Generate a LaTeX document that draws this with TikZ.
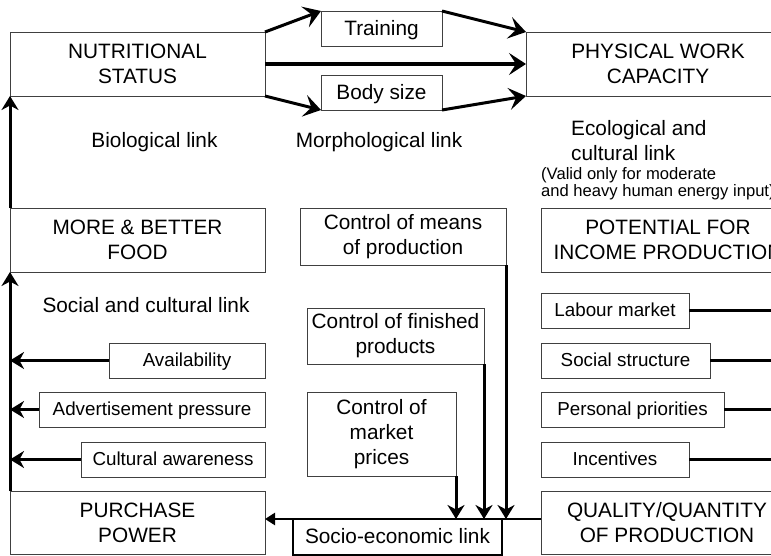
\documentclass[tikz,border=0pt]{standalone}
\usepackage{fontspec}
\setmainfont{Liberation Sans}
\usetikzlibrary{arrows.meta}
\begin{document}
\begin{tikzpicture}[x=1pt,y=-1pt,
  box/.style={draw=black!75, line width=0.9pt, align=center, inner sep=0pt, outer sep=0pt, font=\fontsize{20.8}{25}\selectfont},
  onebox/.style={box, text height=18pt, text depth=4.3pt},
  fbox/.style={box, font=\fontsize{18.8}{22}\selectfont, minimum height=35pt, text height=16.5pt, text depth=3.9pt},
  lbl/.style={inner sep=0pt, font=\fontsize{20.8}{25}\selectfont},
  arr/.style={line width=3pt, -{Stealth[length=17pt, width=22pt, inset=7pt]}},
  darr/.style={line width=3pt, -{Stealth[length=14pt, width=17pt, inset=4.5pt]}},
  sarr/.style={line width=2.6pt, -{Triangle[length=10pt, width=12pt]}},
  bar/.style={line width=3pt},
]
\useasboundingbox (0,0) rectangle (771,556);
\clip (0,0) rectangle (771,556);

% main boxes
\node[box, minimum width=255pt, minimum height=64pt] (ns) at (137.5,64) {NUTRITIONAL\\STATUS};
\node[box, minimum width=264pt, minimum height=64pt] (pwc) at (658,64) {PHYSICAL WORK\\CAPACITY};
\node[onebox, minimum width=121pt, minimum height=35pt] (train) at (381.5,28.5) {Training};
\node[onebox, minimum width=121pt, minimum height=35pt] (body) at (381.5,92.5) {Body size};
\node[box, minimum width=255pt, minimum height=64pt] (mbf) at (137.5,240) {MORE \& BETTER\\FOOD};
\node[box, minimum width=206pt, minimum height=57pt] (means) at (403,236.5) {Control of means\\of production};
\node[box, minimum width=254pt, minimum height=64pt] (pip) at (668,240) {POTENTIAL FOR\\INCOME PRODUCTION};
\node[box, minimum width=177pt, minimum height=56pt] (fin) at (395.5,336) {Control of finished\\products};
\node[box, minimum width=149pt, minimum height=84pt] (mkt) at (381.5,434) {Control of\\market\\prices};
\node[box, minimum width=255pt, minimum height=63pt] (pp) at (137.5,522.5) {PURCHASE\\POWER};
\node[box, minimum width=252pt, minimum height=63pt] (qq) at (667,522.5) {QUALITY/QUANTITY\\OF PRODUCTION};
\node[onebox, draw=black, line width=2.4pt, minimum width=209pt, minimum height=36pt] (socio) at (397.5,537) {Socio-economic link};

% factor boxes left
\node[fbox, minimum width=156pt] (avail) at (187,360.5) {Availability};
\node[fbox, minimum width=226pt] (adv) at (152,409.5) {Advertisement pressure};
\node[fbox, minimum width=184pt] (cult) at (173,459.5) {Cultural awareness};

% factor boxes right
\node[fbox, minimum width=148pt] (lab) at (615,310.5) {Labour market};
\node[fbox, minimum width=169pt] (soc) at (625.5,360.5) {Social structure};
\node[fbox, minimum width=183pt] (pers) at (632.5,409.5) {Personal priorities};
\node[fbox, minimum width=148pt] (inc) at (615,459.5) {Incentives};

% labels
\node[lbl] (bio) at (154.5,142.5) {Biological link};
\node[lbl] (morph) at (379,142.5) {Morphological link};
\node[lbl, anchor=west, align=left] (eco) at (571,140.5) {Ecological and\\cultural link};
\node[inner sep=0pt, anchor=west, align=left, font=\fontsize{16.6}{17}\selectfont] (valid) at (541,183.5) {(Valid only for moderate\\and heavy human energy input)};
\node[lbl] (scl) at (146,305) {Social and cultural link};

\coordinate (redge) at (780,0);

% top connectors
\draw[arr] (ns.north east) -- (train.north west);
\draw[arr] (train.north east) -- (pwc.north west);
\draw[arr, line width=3.4pt] (ns.east) -- (pwc.west);
\draw[arr] (ns.south east) -- (body.south west);
\draw[arr] (body.south east) -- (pwc.south west);

% left vertical
\draw[darr] (mbf.north west) -- (ns.south west);
\draw[darr] (pp.north west) -- (mbf.south west);
\draw[darr] (avail.west) -- (avail.west -| pp.west);
\draw[darr] (adv.west) -- (adv.west -| pp.west);
\draw[darr] (cult.west) -- (cult.west -| pp.west);

% middle down arrows
\draw[darr] (mkt.south east) -- (mkt.south east |- socio.north);
\draw[darr] (fin.south east) -- (fin.south east |- socio.north);
\draw[darr] (means.south east) -- (means.south east |- socio.north);

% socio-economic line to purchase power
\draw[sarr] (qq.west |- socio.north) -- (pp.east |- socio.north);

% right factor lines
\draw[bar] (lab.east) -- (lab.east -| redge);
\draw[bar] (soc.east) -- (soc.east -| redge);
\draw[bar] (pers.east) -- (pers.east -| redge);
\draw[bar] (inc.east) -- (inc.east -| redge);
\end{tikzpicture}
\end{document}
